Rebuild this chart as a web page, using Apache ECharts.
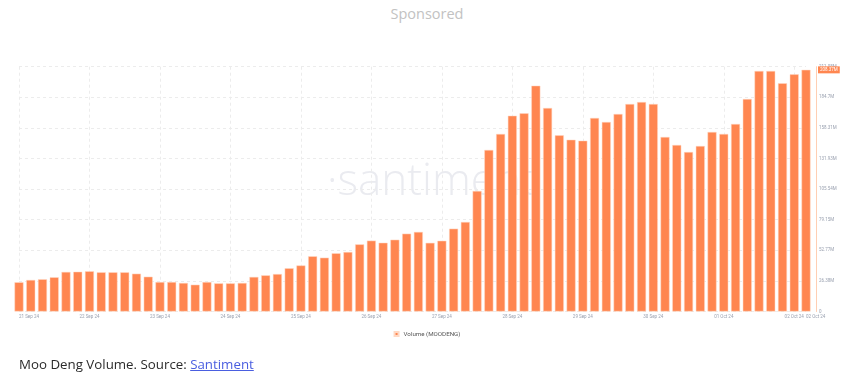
<!DOCTYPE html>
<html>
<head>
<meta charset="utf-8">
<script src="https://cdn.jsdelivr.net/npm/echarts@6/dist/echarts.min.js"></script>
<style>
  body { margin: 0; background: #fff; }
  .wrap { position: relative; width: 854px; height: 378px; overflow: hidden; }
  #main { position: absolute; left: 0; top: 0; width: 854px; height: 378px; }
  .sponsored {
    position: absolute; left: 0; top: 4px; width: 854px; text-align: center;
    font-family: "Open Sans", sans-serif; font-size: 14.5px; color: #c2c2c2;
  }
  .caption {
    position: absolute; left: 19px; top: 355px;
    font-family: "Open Sans", sans-serif; font-size: 13.3px; color: #2b2b2b;
  }
  .caption a { color: #4a5ee0; text-decoration: underline; }
</style>
</head>
<body>
<div class="wrap">
  <div class="sponsored">Sponsored</div>
  <div id="main"></div>
  <div class="caption">Moo Deng Volume. Source: <a href="#">Santiment</a></div>
</div>
<script>
// 4h candles from 21 Sep 24 00:00 to 02 Oct 24 04:00
var startTime = Date.UTC(2024, 8, 21, 0, 0);
var stepHours = 4;
var barCount = 68;
var times = [];
for (var i = 0; i < barCount; i++) {
  times.push(startTime + i * stepHours * 3600 * 1000);
}

// volume in millions
var volume = [
  25.2, 27.2, 27.8, 29.5, 34.1, 34.3, 34.7, 33.8, 33.8, 33.8,
  32.6, 30.0, 25.4, 25.4, 24.6, 23.1, 25.4, 24.3, 24.3, 24.6,
  29.8, 31.2, 32.3, 37.3, 39.7, 47.6, 46.4, 50.2, 51.3, 57.9,
  61.1, 59.3, 61.9, 67.1, 68.6, 59.2, 61.0, 71.4, 77.2, 103.9,
  139.3, 153.1, 168.8, 170.9, 194.7, 175.5, 151.9, 148.1, 147.3, 166.9,
  163.4, 170.3, 178.9, 180.6, 178.9, 150.5, 143.6, 137.5, 142.7, 154.8,
  153.1, 161.7, 183.2, 207.4, 207.4, 196.8, 204.5, 208.37
];

var yTickLabels = ["0", "26.38M", "52.77M", "79.15M", "105.54M", "131.93M", "158.31M", "184.7M", "211.08M"];
var yMax = 211.08;
var yStep = yMax / 8;

var monthNames = ["Jan", "Feb", "Mar", "Apr", "May", "Jun", "Jul", "Aug", "Sep", "Oct", "Nov", "Dec"];
function dayLabel(t) {
  var d = new Date(t);
  var dd = ("0" + d.getUTCDate()).slice(-2);
  return dd + " " + monthNames[d.getUTCMonth()] + " " + String(d.getUTCFullYear()).slice(-2);
}

var categories = times.map(function (t) { return String(t); });
var lastIndex = barCount - 1;

var chart = echarts.init(document.getElementById("main"));
chart.setOption({
  animation: false,
  grid: { left: 19, right: 48, top: 66.7, bottom: 66.5 },
  graphic: [
    {
      type: "text",
      left: 327,
      top: 160,
      z: 0,
      silent: true,
      style: {
        text: "\u00b7santiment",
        fill: "#eaebf0",
        font: "300 44px 'Open Sans', sans-serif"
      }
    }
  ],
  legend: {
    data: ["Volume (MOODENG)"],
    left: "center",
    top: 326,
    icon: "rect",
    itemWidth: 4,
    itemHeight: 4,
    itemGap: 4,
    textStyle: { fontSize: 6.2, color: "#555", fontFamily: "Roboto, sans-serif" }
  },
  xAxis: {
    type: "category",
    data: categories,
    boundaryGap: false,
    axisLine: { show: false },
    axisTick: { show: false },
    axisLabel: {
      interval: function (index) { return index % 6 === 0 || index === lastIndex; },
      formatter: function (value) { return dayLabel(Number(value)); },
      fontSize: 4.5,
      color: "#9aa1b0",
      margin: 3,
      alignMinLabel: "left",
      alignMaxLabel: "left",
      fontFamily: "Roboto, sans-serif"
    },
    splitLine: {
      show: true,
      interval: function (index) { return index % 6 === 0; },
      lineStyle: { color: "#ececec", type: [3, 3], width: 1 }
    }
  },
  yAxis: {
    type: "value",
    position: "right",
    offset: 10,
    min: 0,
    max: yMax,
    interval: yStep,
    axisLine: { show: true, lineStyle: { color: "#ffcfb3", width: 1 } },
    axisTick: { show: false },
    axisLabel: {
      formatter: function (v, idx) { return yTickLabels[idx]; },
      fontSize: 4.5,
      color: "#9aa1b0",
      margin: 3,
      fontFamily: "Roboto, sans-serif"
    },
    splitLine: { show: true, lineStyle: { color: "#ececec", type: [3, 3], width: 1 } }
  },
  series: [
    {
      name: "Volume (MOODENG)",
      type: "bar",
      data: volume,
      barWidth: 9,
      z: 2,
      clip: true,
      itemStyle: { color: "#ff8650", borderColor: "#ffd9c4", borderWidth: 0.5 },
      markLine: {
        silent: true,
        symbol: "none",
        z: 5,
        lineStyle: { color: "transparent", width: 0 },
        data: [{ yAxis: volume[lastIndex] }],
        label: {
          show: true,
          position: "end",
          distance: 12,
          formatter: volume[lastIndex].toFixed(2) + "M",
          backgroundColor: "#ff8650",
          color: "#fff",
          fontSize: 4.5,
          padding: [1, 2],
          fontFamily: "Roboto, sans-serif"
        }
      }
    }
  ]
});
</script>
</body>
</html>
